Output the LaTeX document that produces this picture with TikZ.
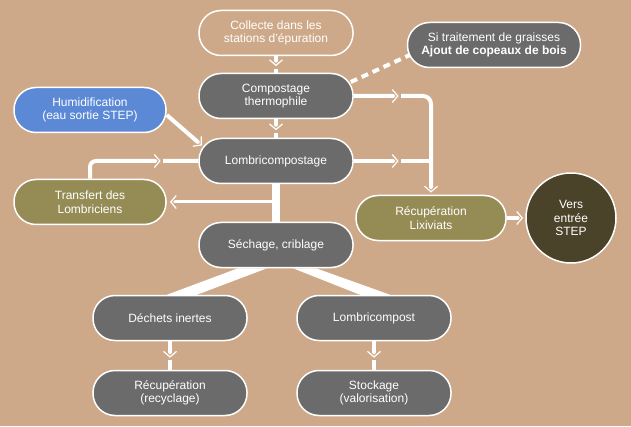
\documentclass[tikz,border=0pt]{standalone}
\usepackage{fontspec}
\setmainfont{Liberation Sans}
\usetikzlibrary{arrows.meta,positioning}
\usetikzlibrary{decorations.markings, calc}

\definecolor{bgtan}{RGB}{206,169,137}
\definecolor{boxgray}{RGB}{107,107,107}
\definecolor{boxblue}{RGB}{91,137,214}
\definecolor{boxolive}{RGB}{149,140,85}
\definecolor{boxdark}{RGB}{74,66,41}

% chevron in the middle of a pipe (with a small gap after the tip)
\newcommand{\chevmid}{%
    \fill[bgtan, sharp corners] (1pt,-3pt) rectangle (3.5pt,3pt);
    \draw[bgtan, line width=3.4pt, sharp corners] (-5.5pt,6.5pt) -- (0,0) -- (-5.5pt,-6.5pt);
    \draw[white, line width=1.2pt, sharp corners] (-5.5pt,6.5pt) -- (0,0) -- (-5.5pt,-6.5pt);}
% chevron at the end of a pipe
\newcommand{\chevend}{%
    \draw[bgtan, line width=3.4pt, sharp corners] (-5.5pt,6.5pt) -- (0,0) -- (-5.5pt,-6.5pt);
    \draw[white, line width=1.2pt, sharp corners] (-5.5pt,6.5pt) -- (0,0) -- (-5.5pt,-6.5pt);}

\tikzset{
    box/.style={draw=white, line width=1.5pt, rounded corners=22pt,
        minimum width=154pt, minimum height=45pt, inner sep=2pt,
        text=white, align=center, font=\fontsize{12}{13.5}\selectfont},
    pipe/.style={draw=white, line width=4pt},
    chev/.style={postaction={decorate, decoration={markings,
        mark=at position #1 with {\chevmid}}}},
    chevtip/.style={postaction={decorate, decoration={markings,
        mark=at position 0.9999 with {\chevend}}}},
}

\begin{document}
\begin{tikzpicture}[x=1pt, y=1pt]
    % --- background ---
    \path[use as bounding box, fill=bgtan] (0,0) rectangle (631,426);

    % --- 1. main column ---
    \node[box, fill=bgtan]   (coll)   at (276,393) {Collecte dans les\\stations d’épuration};
    \node[box, fill=boxgray] (comp)   at (276,330) {Compostage\\thermophile};
    \node[box, fill=boxgray] (lombri) at (276,265) {Lombricompostage};
    \node[box, fill=boxgray] (sech)   at (276,181) {Séchage, criblage};

    % --- 2. side boxes ---
    \node[box, fill=boxgray, minimum width=173pt] (graisse) at (494,381)
        {Si traitement de graisses\\\textbf{Ajout de copeaux de bois}};
    \node[box, fill=boxblue, minimum width=152pt]  (humid)  at (90,316) {Humidification\\(eau sortie STEP)};
    \node[box, fill=boxolive, minimum width=152pt] (transf) at (90,224) {Transfert des\\Lombriciens};
    \node[box, fill=boxolive, minimum width=150pt] (lix)    at (431,208) {Récupération\\Lixiviats};
    \node[draw=white, line width=1.5pt, circle, minimum size=90pt, fill=boxdark,
          text=white, align=center, font=\fontsize{12}{13.5}\selectfont] (step) at (571,208) {Vers\\entrée\\STEP};

    % --- 3. bottom boxes ---
    \node[box, fill=boxgray] (dech)  at (170,108) {Déchets inertes};
    \node[box, fill=boxgray] (lcomp) at (374,108) {Lombricompost};
    \node[box, fill=boxgray] (recy)  at (170,33)  {Récupération\\(recyclage)};
    \node[box, fill=boxgray] (stock) at (374,33)  {Stockage\\(valorisation)};

    % --- 4. pipes ---
    \draw[pipe, chev=0.55] (coll) -- (comp);
    \draw[pipe, chev=0.55] (comp) -- (lombri);
    \draw[white, line width=8pt] (lombri.south) -- (sech.north);
    \draw[pipe, chev=0.55] (dech) -- (recy);
    \draw[pipe, chev=0.55] (lcomp) -- (stock);

    % leachate collection
    \draw[pipe, rounded corners=8pt, chev=44pt, chevtip] (comp.east) -| ([yshift=3pt]lix.north);
    \draw[pipe, chev=44pt] (lombri.east) -- (lombri.east -| lix.north);
    \draw[pipe, chevtip] (lix.east) -- ([xshift=-3pt]step.west);

    % inputs and worm transfer
    \draw[pipe, chevtip] ([yshift=-5pt]humid.east) -- ([xshift=3pt,yshift=16pt]lombri.west);
    \draw[pipe, rounded corners=6pt, chev=85pt] (transf.north) |- (lombri.west);
    \draw[white, line width=3pt, chevtip] (lombri.south |- transf.east) -- ([xshift=4pt]transf.east);

    % optional wood chips
    \draw[white, line width=4pt, dash pattern=on 7pt off 5pt]
        ([xshift=-3pt,yshift=14pt]comp.east) -- ([xshift=3pt,yshift=-10pt]graisse.west);

    % screening split
    \fill[white] ([xshift=-38pt]sech.south) -- ([xshift=-9pt]sech.south)
        -- ([xshift=27pt]dech.north) -- ([xshift=-3pt]dech.north) -- cycle;
    \fill[white] ([xshift=17pt]sech.south) -- ([xshift=40pt]sech.south)
        -- ([xshift=16pt]lcomp.north) -- ([xshift=-14pt]lcomp.north) -- cycle;
\end{tikzpicture}
\end{document}
